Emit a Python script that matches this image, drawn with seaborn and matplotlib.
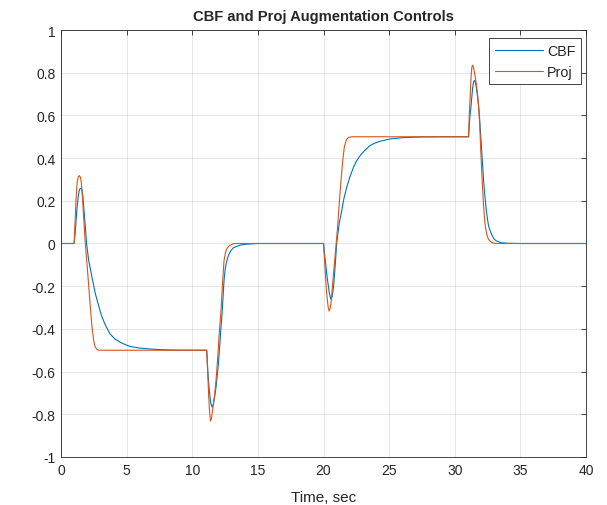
import numpy as np
import pandas as pd
import matplotlib
matplotlib.use("Agg")
import matplotlib.pyplot as plt
import seaborn as sns

# values
t_cbf = [0, 1.0, 1.08, 1.15, 1.22, 1.3, 1.38, 1.45, 1.52, 1.6, 1.66, 1.73, 1.84, 1.95,
         2.11, 2.36, 2.62, 2.97, 3.13, 3.4, 3.73, 4.1, 4.5, 4.9, 5.26, 6.0, 6.78, 7.5,
         8.5, 9.5, 11.1,
         11.15, 11.22, 11.3, 11.4, 11.51, 11.6, 11.7, 11.81, 11.9, 11.99, 12.08, 12.17,
         12.27, 12.35, 12.42, 12.5, 12.58, 12.75, 12.95, 13.13, 13.4, 13.64, 14.0, 14.4,
         15.0, 20.0,
         20.08, 20.15, 20.3, 20.45, 20.56, 20.66, 20.76, 20.88, 21.0, 21.19, 21.39, 21.55,
         21.77, 22.0, 22.28, 22.5, 22.79, 23.15, 23.55, 23.9, 24.32, 25.08, 26.1, 27.5,
         29.0, 31.05,
         31.1, 31.16, 31.24, 31.3, 31.37, 31.43, 31.49, 31.55, 31.62, 31.7, 31.76, 31.82,
         31.88, 31.95, 32.02, 32.08, 32.15, 32.2, 32.27, 32.33, 32.4, 32.48, 32.55, 32.63,
         32.8, 33.0, 33.2, 33.5, 34.0, 35.0, 40.0]
u_cbf = [0, 0, 0.05, 0.11, 0.165, 0.215, 0.245, 0.257, 0.259, 0.25, 0.225, 0.17, 0.09, 0.0,
         -0.08, -0.158, -0.236, -0.314, -0.345, -0.385, -0.423, -0.447, -0.462, -0.474,
         -0.482, -0.49, -0.494, -0.497, -0.499, -0.5, -0.5,
         -0.56, -0.63, -0.69, -0.745, -0.767, -0.755, -0.72, -0.673, -0.62, -0.564, -0.49,
         -0.407, -0.33, -0.245, -0.173, -0.125, -0.095, -0.056, -0.033, -0.02, -0.013,
         -0.008, -0.004, -0.002, 0.0, 0.0,
         -0.05, -0.09, -0.17, -0.235, -0.261, -0.248, -0.204, -0.111, 0.0, 0.092, 0.155,
         0.21, 0.264, 0.31, 0.357, 0.385, 0.412, 0.437, 0.459, 0.47, 0.479, 0.49, 0.496,
         0.499, 0.5, 0.5,
         0.55, 0.6, 0.645, 0.69, 0.735, 0.757, 0.764, 0.758, 0.74, 0.705, 0.675, 0.638,
         0.595, 0.53, 0.46, 0.405, 0.34, 0.29, 0.235, 0.2, 0.155, 0.12, 0.09, 0.07,
         0.043, 0.02, 0.011, 0.004, 0.001, 0.0, 0.0]

t_proj = [0, 1.0, 1.07, 1.14, 1.2, 1.25, 1.32, 1.4, 1.48, 1.56, 1.65, 1.75, 1.85, 1.96,
          2.06, 2.15, 2.23, 2.36, 2.49, 2.56, 2.62, 2.72, 2.87, 11.1,
          11.15, 11.2, 11.25, 11.3, 11.38, 11.46, 11.53, 11.61, 11.7, 11.79, 11.87, 11.97,
          12.07, 12.17, 12.25, 12.32, 12.42, 12.52, 12.63, 12.75, 12.88, 13.2, 20.0,
          20.07, 20.15, 20.22, 20.3, 20.36, 20.43, 20.5, 20.59, 20.67, 20.76, 20.92, 21.07,
          21.2, 21.33, 21.45, 21.58, 21.68, 21.75, 21.9, 22.2, 31.05,
          31.1, 31.16, 31.21, 31.25, 31.3, 31.34, 31.4, 31.45, 31.5, 31.56, 31.62, 31.68,
          31.73, 31.78, 31.84, 31.9, 31.95, 32.0, 32.08, 32.17, 32.25, 32.33, 32.45, 32.55,
          32.63, 32.8, 33.1, 40.0]
u_proj = [0, 0, 0.1, 0.2, 0.26, 0.295, 0.313, 0.318, 0.31, 0.28, 0.201, 0.1, 0.0, -0.08,
          -0.158, -0.23, -0.298, -0.39, -0.454, -0.475, -0.486, -0.495, -0.5, -0.5,
          -0.57, -0.64, -0.71, -0.77, -0.832, -0.82, -0.79, -0.751, -0.71, -0.655, -0.595,
          -0.505, -0.407, -0.33, -0.25, -0.173, -0.08, -0.045, -0.025, -0.015, -0.008, 0.0,
          0.0,
          -0.07, -0.15, -0.22, -0.27, -0.3, -0.317, -0.305, -0.267, -0.21, -0.142, -0.03,
          0.077, 0.19, 0.295, 0.38, 0.451, 0.475, 0.487, 0.497, 0.5, 0.5,
          0.6, 0.67, 0.74, 0.79, 0.825, 0.835, 0.83, 0.815, 0.8, 0.78, 0.755, 0.73,
          0.7, 0.67, 0.62, 0.55, 0.48, 0.405, 0.3, 0.2, 0.13, 0.078, 0.04, 0.022,
          0.015, 0.005, 0.0, 0.0]

series_names = ["CBF", "Proj"]
series_colors = ["#0072BD", "#D95319"]
x_ticks = [0, 5, 10, 15, 20, 25, 30, 35, 40]
y_ticks = [-1, -0.8, -0.6, -0.4, -0.2, 0, 0.2, 0.4, 0.6, 0.8, 1]
y_tick_labels = ["-1", "-0.8", "-0.6", "-0.4", "-0.2", "0", "0.2", "0.4", "0.6", "0.8", "1"]

df = pd.concat([
    pd.DataFrame({"t": t_cbf, "u": u_cbf, "series": "CBF"}),
    pd.DataFrame({"t": t_proj, "u": u_proj, "series": "Proj"}),
], ignore_index=True)

sns.set_style("white")
plt.rcParams["font.family"] = ["Liberation Sans", "DejaVu Sans"]

fig = plt.figure(figsize=(6.07, 5.06), dpi=100)
ax = fig.add_axes([0.1005, 0.0949, 0.865, 0.8438])

sns.lineplot(data=df, x="t", y="u", hue="series", hue_order=series_names,
             palette=series_colors, estimator=None, sort=False, linewidth=0.8, ax=ax)

ax.set_xlim(0, 40)
ax.set_ylim(-1, 1)
ax.set_xticks(x_ticks)
ax.set_xticklabels([str(v) for v in x_ticks])
ax.set_yticks(y_ticks)
ax.set_yticklabels(y_tick_labels)
ax.grid(True, color="#262626", alpha=0.13, linewidth=0.6)
ax.tick_params(direction="in", length=3.8, width=0.6, top=True, right=True,
               colors="#262626", labelsize=10, pad=4)
for s in ax.spines.values():
    s.set_color("#262626")
    s.set_linewidth(0.6)

ax.set_title("CBF and Proj Augmentation Controls", fontsize=10.6, fontweight="bold", pad=7)
ax.set_xlabel("Time, sec", fontsize=11, color="#262626", labelpad=10)
ax.set_ylabel("")

# legend box sits ~5 px from the right edge and ~8 px below the top edge
leg = ax.legend(loc="upper right", bbox_to_anchor=(1 - 5 / 525, 1 - 8 / 427),
                fontsize=10.3, frameon=True, fancybox=False, framealpha=1,
                edgecolor="#262626", borderaxespad=0, handlelength=3.35,
                handletextpad=0.3, borderpad=0.4, labelspacing=0.48)
leg.get_frame().set_linewidth(0.6)

fig.savefig("out.png", dpi=100)
